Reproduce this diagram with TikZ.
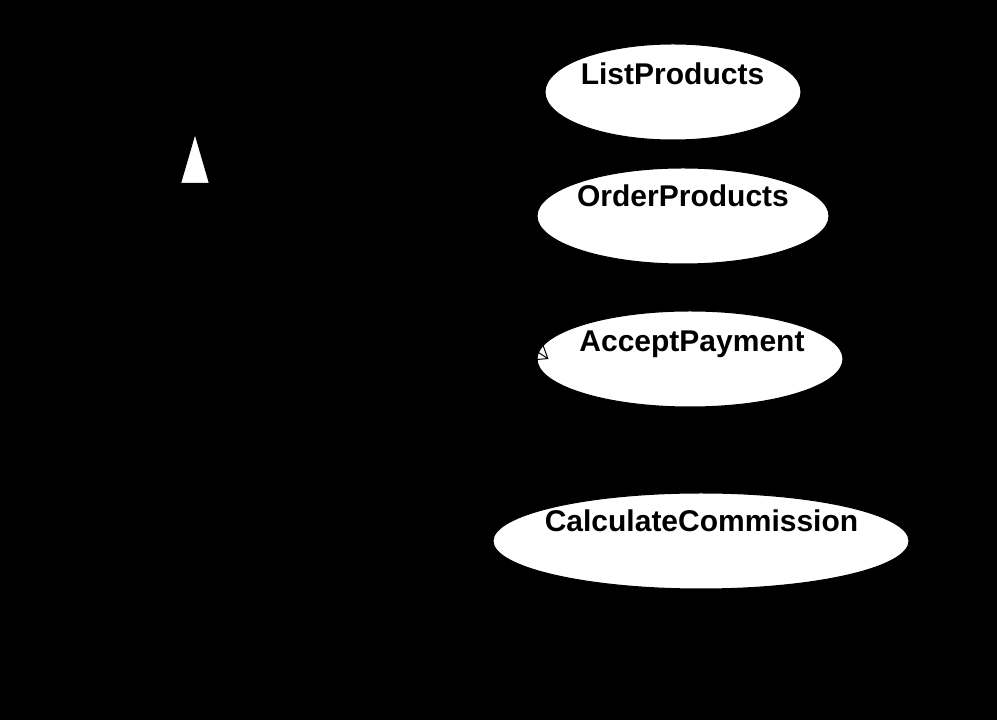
\documentclass[tikz,border=0pt]{standalone}
\usepackage{fontspec}
\setmainfont{Liberation Sans}
\usetikzlibrary{shapes.geometric,arrows.meta}
\tikzset{
  usecase/.style={ellipse, draw=black, line width=1pt, fill=white, inner sep=0pt},
  uclabel/.style={anchor=base, inner sep=0pt, text=black, font=\fontsize{30}{36}\selectfont\bfseries},
  actorlabel/.style={anchor=base, inner sep=0pt, text=black, font=\fontsize{31}{37}\selectfont},
  conn/.style={draw=black, line width=1pt},
  gen/.style={conn, -{Triangle[open, fill=white, length=52pt, width=30pt]}},
  nav/.style={conn, -{Straight Barb[length=13pt, width=20pt]}}
}
\begin{document}
\begin{tikzpicture}[x=1pt, y=1pt]
\fill[black] (0,0) rectangle (997,720);
\useasboundingbox (0,0) rectangle (997,720);

% use cases
\node[usecase, minimum width=256pt, minimum height=96pt] (lp) at (673,628) {};
\node[usecase, minimum width=292pt, minimum height=96pt] (op) at (683,504) {};
\node[usecase, minimum width=306pt, minimum height=96pt] (ap) at (690,361) {};
\node[usecase, minimum width=416pt, minimum height=96pt] (cc) at (701,179) {};

\node[uclabel] (lpt) at (672.5,635) {ListProducts};
\node[uclabel] (opt) at (683,513) {OrderProducts};
\node[uclabel] (apt) at (692,368) {AcceptPayment};
\node[uclabel] (cct) at (701.5,188) {CalculateCommission};

% actors and system
\node[actorlabel] (purchlbl) at (195,550) {Purchaser};
\node[actorlabel] (cust) at (73,223) {Customer};
\node[actorlabel] (sa) at (254,214) {SalesAgent};
\node[actorlabel] (sys) at (884,75) {Sales System};

\coordinate (purchaser) at (195,588);
\coordinate (genjoin) at (195,400);

% connectors
\draw[conn] (cust.north) -- (genjoin);
\draw[conn] (sa.north) -- (genjoin);
\draw[gen] (genjoin) -- (purchaser);
\draw[nav] (purchaser) -- ([xshift=12pt]ap.west);
\end{tikzpicture}
\end{document}
